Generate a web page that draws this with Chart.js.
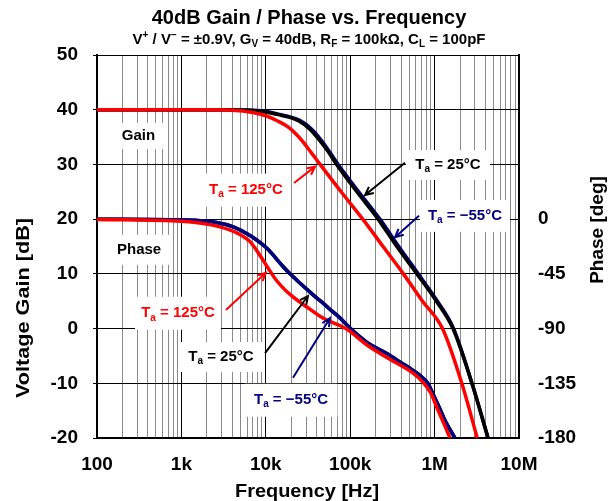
<!DOCTYPE html>
<html>
<head>
<meta charset="utf-8">
<script src="https://cdn.jsdelivr.net/npm/chart.js@4.4.1/dist/chart.umd.min.js"></script>
<style>
  html, body { margin: 0; padding: 0; background: #fff; }
  #wrap { width: 612px; height: 501px; }
</style>
</head>
<body>
<div id="wrap"><canvas id="gainPhaseChart" width="612" height="501"></canvas></div>
<script>
const FONT = "'Liberation Sans', Arial, sans-serif";
const RED = "#ff0000";
const NAVY = "#000080";

// axis ticks
const xDecades = [1e2, 1e3, 1e4, 1e5, 1e6, 1e7];
const xTickLabels = ["100", "1k", "10k", "100k", "1M", "10M"];
const phaseTickValues = [0, -45, -90, -135, -180];

// gain curves [Hz] -> [dB]
const redGainFreq = [100, 1000, 2000, 4000, 7000, 10000, 14000, 19300, 26000, 34000, 44000, 78000, 141000, 245000, 427000, 720000, 1240000, 2100000, 3200000];
const redGainDb = [40, 40, 39.98, 39.9, 39.5, 38.9, 37.9, 36.6, 34.6, 32.3, 30, 25, 20, 15, 10, 5, 0, -10, -20];

const blackGainFreq = [100, 1000, 3000, 6000, 10000, 14000, 19300, 25000, 33000, 43000, 55000, 69000, 120000, 214000, 357000, 617000, 1050000, 1650000, 2770000, 4300000];
const blackGainDb = [40, 40, 40, 39.9, 39.6, 39.1, 38.6, 37.9, 36.5, 34.5, 32.3, 30, 25, 20, 15, 10, 5, 0, -10, -20];

const navyGainFreq = [100, 1000, 3000, 6000, 10000, 14000, 19300, 25500, 34000, 45000, 57000, 72000, 126000, 225000, 376000, 640000, 1080000, 1680000, 2770000, 4300000];
const navyGainDb = [40, 40, 40, 39.95, 39.7, 39.2, 38.7, 38, 36.6, 34.5, 32.3, 30, 25, 20, 15, 10, 5, 0, -10, -20];

// phase curves [Hz] -> [deg]
const redPhaseFreq = [100, 1000, 2000, 3800, 5200, 6500, 8200, 10300, 12800, 15900, 19500, 25500, 31000, 48000, 89000, 158000, 275000, 550000, 725000, 900000, 1070000, 1300000, 1520000];
const redPhaseDeg = [-0.2, -1.8, -4.1, -9, -13.5, -18.5, -28, -38.7, -48.6, -56.3, -62.1, -68.4, -72.5, -81.5, -90, -103.5, -114, -126.5, -134, -143, -155.3, -168.8, -180];

const navyPhaseFreq = [100, 1000, 2600, 4200, 6500, 10300, 15900, 19400, 25500, 31000, 40000, 48000, 60000, 75000, 101000, 158000, 275000, 400000, 550000, 700000, 830000, 960000, 1150000, 1320000, 1740000];
const navyPhaseDeg = [0, -0.7, -2.7, -6.5, -13.5, -24, -38.7, -45, -52.7, -58, -64.8, -69.3, -75.2, -81, -90, -101.3, -110.7, -118, -124.2, -129.6, -135, -144, -155.7, -165.2, -180];

// 25°C phase sits under the -55°C trace
const blackPhaseFreq = [100, 1000, 2600, 4200, 6500, 10300, 15900, 19400, 25500, 31000, 40000, 48000, 60000, 75000, 101000, 158000, 275000, 400000, 550000, 700000, 830000, 960000, 1150000, 1320000, 1740000];
const blackPhaseDeg = [0, -0.7, -2.7, -6.5, -13.5, -24, -38.7, -45, -52.7, -58, -64.8, -69.3, -75.2, -81, -90, -101.3, -110.7, -118, -124.2, -129.6, -135, -144, -155.7, -165.2, -180];

// T with subscript a
const ta = (rest) => [["T", "n"], ["a", "sub"], [rest, "n"]];

// labels in data coords (Hz, dB), box size in px
const notes = [
    { runs: [["Gain", "n"]], at: [310, 35.2], box: [50, 26], color: "#000" },
    { runs: [["Phase", "n"]], at: [315, 14.4], box: [60, 30], color: "#000" },
    { runs: ta(" = 125°C"), at: [5820, 25.3], box: [88, 33], color: RED, arrow: [[21600, 26.6], [38300, 29.6]] },
    { runs: ta(" = 25°C"), at: [1440000, 29.9], box: [84, 30], color: "#000", arrow: [[446000, 30.3], [150000, 24.4]] },
    { runs: ta(" = \u221255°C"), at: [2290000, 20.6], box: [90, 32], color: NAVY, arrow: [[653000, 20.6], [340000, 16.7]] },
    { runs: ta(" = 125°C"), at: [912, 2.8], box: [86, 33], color: RED, arrow: [[3370, 3.4], [10000, 10.2]] },
    { runs: ta(" = 25°C"), at: [2940, -5.2], box: [83, 30], color: "#000", arrow: [[9800, -4.5], [31600, 5.95]] },
    { runs: ta(" = \u221255°C"), at: [19900, -13.1], box: [93, 33], color: NAVY, arrow: [[21000, -9.0], [57500, 1.9]] },
];

const subtitleRuns = [
    ["V", "n"], ["+", "sup"], [" / V", "n"], ["\u2212", "sup"], [" = \u00b10.9V, G", "n"], ["V", "sub"],
    [" = 40dB, R", "n"], ["F", "sub"], [" = 100k\u03a9, C", "n"], ["L", "sub"], [" = 100pF", "n"],
];

function drawRuns(ctx, runs, cx, cy, size, color) {
    const fontFor = (s) => `bold ${s === "n" ? size : Math.round(size * 0.68)}px ${FONT}`;
    let total = 0;
    runs.forEach(([t, s]) => { ctx.font = fontFor(s); total += ctx.measureText(t).width; });
    let x = cx - total / 2;
    ctx.fillStyle = color;
    ctx.textAlign = "left";
    ctx.textBaseline = "middle";
    runs.forEach(([t, s]) => {
        ctx.font = fontFor(s);
        const dy = s === "sub" ? size * 0.3 : s === "sup" ? -size * 0.32 : 0;
        ctx.fillText(t, x, cy + dy);
        x += ctx.measureText(t).width;
    });
}

function drawArrow(ctx, x1, y1, x2, y2, color) {
    const a = Math.atan2(y2 - y1, x2 - x1);
    const h = 9;
    ctx.strokeStyle = color;
    ctx.lineWidth = 2;
    ctx.beginPath();
    ctx.moveTo(x1, y1);
    ctx.lineTo(x2, y2);
    ctx.moveTo(x2 - h * Math.cos(a - 0.45), y2 - h * Math.sin(a - 0.45));
    ctx.lineTo(x2, y2);
    ctx.lineTo(x2 - h * Math.cos(a + 0.45), y2 - h * Math.sin(a + 0.45));
    ctx.stroke();
}

// text drawn along the axis, optionally stretched along its length
function drawAxisTitle(ctx, text, x, y, size, rotated, stretch) {
    ctx.save();
    ctx.translate(x, y);
    if (rotated) ctx.rotate(-Math.PI / 2);
    ctx.scale(stretch, 1);
    ctx.font = `bold ${size}px ${FONT}`;
    ctx.fillStyle = "#000";
    ctx.textAlign = "center";
    ctx.textBaseline = "middle";
    ctx.fillText(text, 0, 0);
    ctx.restore();
}

const overlayPlugin = {
    id: "overlay",
    beforeDatasetsDraw(chart) {
        const { ctx, scales } = chart;
        ctx.save();
        ctx.fillStyle = "#fff";
        notes.forEach((n) => {
            const cx = scales.x.getPixelForValue(n.at[0]);
            const cy = scales.y.getPixelForValue(n.at[1]);
            ctx.fillRect(cx - n.box[0] / 2, cy - n.box[1] / 2, n.box[0], n.box[1]);
        });
        ctx.restore();
    },
    afterDatasetsDraw(chart) {
        const { ctx, scales } = chart;
        const px = (p) => [scales.x.getPixelForValue(p[0]), scales.y.getPixelForValue(p[1])];
        ctx.save();
        notes.forEach((n) => {
            const [cx, cy] = px(n.at);
            drawRuns(ctx, n.runs, cx, cy, 15, n.color);
            if (n.arrow) {
                const [x1, y1] = px(n.arrow[0]);
                const [x2, y2] = px(n.arrow[1]);
                drawArrow(ctx, x1, y1, x2, y2, n.color);
            }
        });
        ctx.restore();
    },
    afterDraw(chart) {
        const { ctx } = chart;
        ctx.save();
        drawRuns(ctx, [["40dB Gain / Phase vs. Frequency", "n"]], 309, 18, 20, "#000");
        drawRuns(ctx, subtitleRuns, 309, 40, 15, "#000");
        drawAxisTitle(ctx, "Voltage Gain [dB]", 24, 308, 19, true, 1.14);
        drawAxisTitle(ctx, "Phase [deg]", 598, 230, 19, true, 1.0);
        drawAxisTitle(ctx, "Frequency [Hz]", 307, 492, 19, false, 1.05);
        ctx.restore();
    },
};

const line = (freq, vals, color, width, axis) => ({
    data: freq.map((f, i) => ({ x: f, y: vals[i] })),
    borderColor: color,
    borderWidth: width,
    yAxisID: axis,
    pointRadius: 0,
    fill: false,
    cubicInterpolationMode: "monotone",
});

// first dataset is drawn on top
const datasets = [
    line(redGainFreq, redGainDb, RED, 3.5, "y"),
    line(redPhaseFreq, redPhaseDeg, RED, 3.5, "y2"),
    line(blackGainFreq, blackGainDb, "#000", 3.5, "y"),
    line(navyGainFreq, navyGainDb, NAVY, 3.5, "y"),
    line(navyPhaseFreq, navyPhaseDeg, NAVY, 3.5, "y2"),
    line(blackPhaseFreq, blackPhaseDeg, "#000", 3.5, "y2"),
];

const tickFont = { family: FONT, size: 19, weight: "bold" };

new Chart(document.getElementById("gainPhaseChart"), {
    type: "line",
    data: { datasets },
    options: {
        responsive: false,
        animation: false,
        layout: { padding: { top: 55, left: 0, right: 0, bottom: 0 } },
        plugins: { legend: { display: false }, tooltip: { enabled: false } },
        scales: {
            x: {
                type: "logarithmic",
                position: "bottom",
                min: 1e2,
                max: 1e7,
                afterBuildTicks: (scale) => {
                    const t = [];
                    xDecades.slice(0, -1).forEach((d) => {
                        for (let k = 1; k < 10; k++) t.push({ value: k * d });
                    });
                    t.push({ value: xDecades[xDecades.length - 1] });
                    scale.ticks = t;
                },
                afterFit: (scale) => { scale.height = 63; },
                ticks: {
                    autoSkip: false,
                    maxRotation: 0,
                    padding: 15,
                    color: "#000",
                    font: tickFont,
                    callback: (v) => {
                        const i = xDecades.indexOf(v);
                        return i >= 0 ? xTickLabels[i] : "";
                    },
                },
                grid: {
                    drawTicks: false,
                    lineWidth: 1,
                    color: (c) => (xDecades.includes(c.tick.value) ? "#000" : "#8a8a8a"),
                },
                border: { color: "#000", width: 2 },
            },
            y: {
                position: "left",
                min: -20,
                max: 50,
                afterFit: (scale) => { scale.width = 97; },
                ticks: { stepSize: 10, padding: 15, color: "#000", font: tickFont },
                grid: { color: "#000", lineWidth: 1, tickLength: 4 },
                border: { color: "#000", width: 2 },
            },
            y2: {
                position: "right",
                min: -180,
                max: 135,
                afterFit: (scale) => { scale.width = 93; },
                ticks: {
                    stepSize: 45,
                    padding: 19,
                    color: "#000",
                    font: tickFont,
                    callback: (v) => (phaseTickValues.includes(v) ? String(v) : ""),
                },
                grid: { drawOnChartArea: false, drawTicks: false },
                border: { color: "#000", width: 2 },
            },
        },
    },
    plugins: [overlayPlugin],
});
</script>
</body>
</html>
